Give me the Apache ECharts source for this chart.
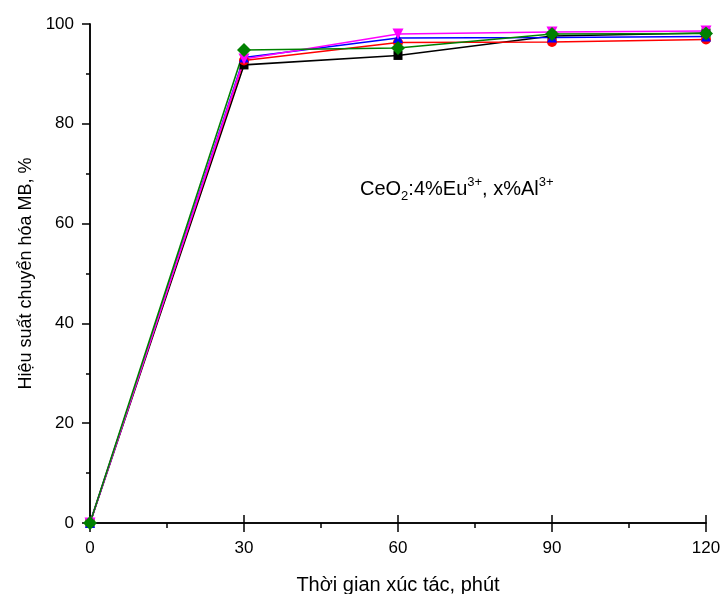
<!DOCTYPE html>
<html><head><meta charset="utf-8">
<script src="https://cdn.jsdelivr.net/npm/echarts@6/dist/echarts.min.js"></script>
<style>html,body{margin:0;padding:0;background:#fff}#c{width:720px;height:594px}</style>
</head><body><div id="c"></div>
<script>
const times = [0, 30, 60, 90, 120];
const sBlack = [0, 91.8, 93.7, 97.6, 98.2];
const sRed = [0, 92.7, 96.3, 96.4, 96.9];
const sBlue = [0, 93.3, 97.2, 97.3, 97.5];
const sMagenta = [0, 93.0, 98.0, 98.4, 98.6];
const sGreen = [0, 94.8, 95.2, 98.0, 98.1];
const font = 'Liberation Sans, Arial, sans-serif';
function mk(name, data, color, symbol, size) {
  return { name, type: 'line', data: times.map((t, i) => [t, data[i]]), symbol, symbolSize: size,
    lineStyle: { color, width: 1.6 }, itemStyle: { color }, z: 3 };
}
const tickStyle = { color: '#000', width: 1.5 };
const chart = echarts.init(document.getElementById('c'));
chart.setOption({
  animation: false,
  grid: { left: 90, right: 14, top: 24, bottom: 71, containLabel: false, outerBoundsMode: 'none' },
  xAxis: [{
    type: 'value', min: 0, max: 120, interval: 30,
    name: 'Thời gian xúc tác, phút', nameLocation: 'middle', nameGap: 52,
    nameTextStyle: { fontFamily: font, fontSize: 20, color: '#000' },
    axisLine: { onZero: false, lineStyle: tickStyle },
    axisTick: { length: 9, lineStyle: tickStyle },
    minorTick: { show: true, splitNumber: 2, length: 5, lineStyle: tickStyle },
    axisLabel: { fontFamily: font, fontSize: 17, color: '#000', margin: 17 },
    splitLine: { show: false }
  }, {
    type: 'value', min: 0, max: 120, interval: 30, position: 'top',
    axisLine: { show: true, lineStyle: tickStyle },
    axisTick: { length: 8, lineStyle: tickStyle },
    minorTick: { show: false },
    axisLabel: { show: false }, splitLine: { show: false }
  }],
  yAxis: [{
    type: 'value', min: 0, max: 100, interval: 20,
    name: 'Hiệu suất chuyển hóa MB, %', nameLocation: 'middle', nameGap: 52,
    nameTextStyle: { fontFamily: font, fontSize: 18, color: '#000' },
    axisLine: { onZero: false, lineStyle: tickStyle },
    axisTick: { length: 8, lineStyle: tickStyle },
    minorTick: { show: true, splitNumber: 2, length: 4, lineStyle: tickStyle },
    axisLabel: { fontFamily: font, fontSize: 17, color: '#000', margin: 16 },
    splitLine: { show: false }
  }, {
    type: 'value', min: 0, max: 100, interval: 20, position: 'right',
    axisLine: { show: true, lineStyle: tickStyle },
    axisTick: { show: false }, axisLabel: { show: false }, splitLine: { show: false }
  }],
  series: [
    mk('0', sBlack, '#000000', 'rect', 9),
    mk('1', sRed, '#ff0000', 'circle', 10),
    mk('2', sBlue, '#0000ff', 'triangle', 10),
    mk('3', sMagenta, '#ff00ff', 'path://M0,0 L10,0 L5,10 Z', 11),
    mk('4', sGreen, '#008000', 'diamond', 14)
  ],
  graphic: [{
    type: 'text', left: 360, top: 176,
    style: {
      text: '{n|CeO}{sub|2}{n|:4%Eu}{sup|3+}{n|, x%Al}{sup|3+}',
      rich: {
        n: { fontFamily: font, fontSize: 20, fill: '#000', verticalAlign: 'middle', lineHeight: 30 },
        sub: { fontFamily: font, fontSize: 13, fill: '#000', padding: [14, 0, 0, 0], lineHeight: 30 },
        sup: { fontFamily: font, fontSize: 13, fill: '#000', padding: [0, 0, 14, 0], lineHeight: 30 }
      }
    }
  }]
});
</script></body></html>
